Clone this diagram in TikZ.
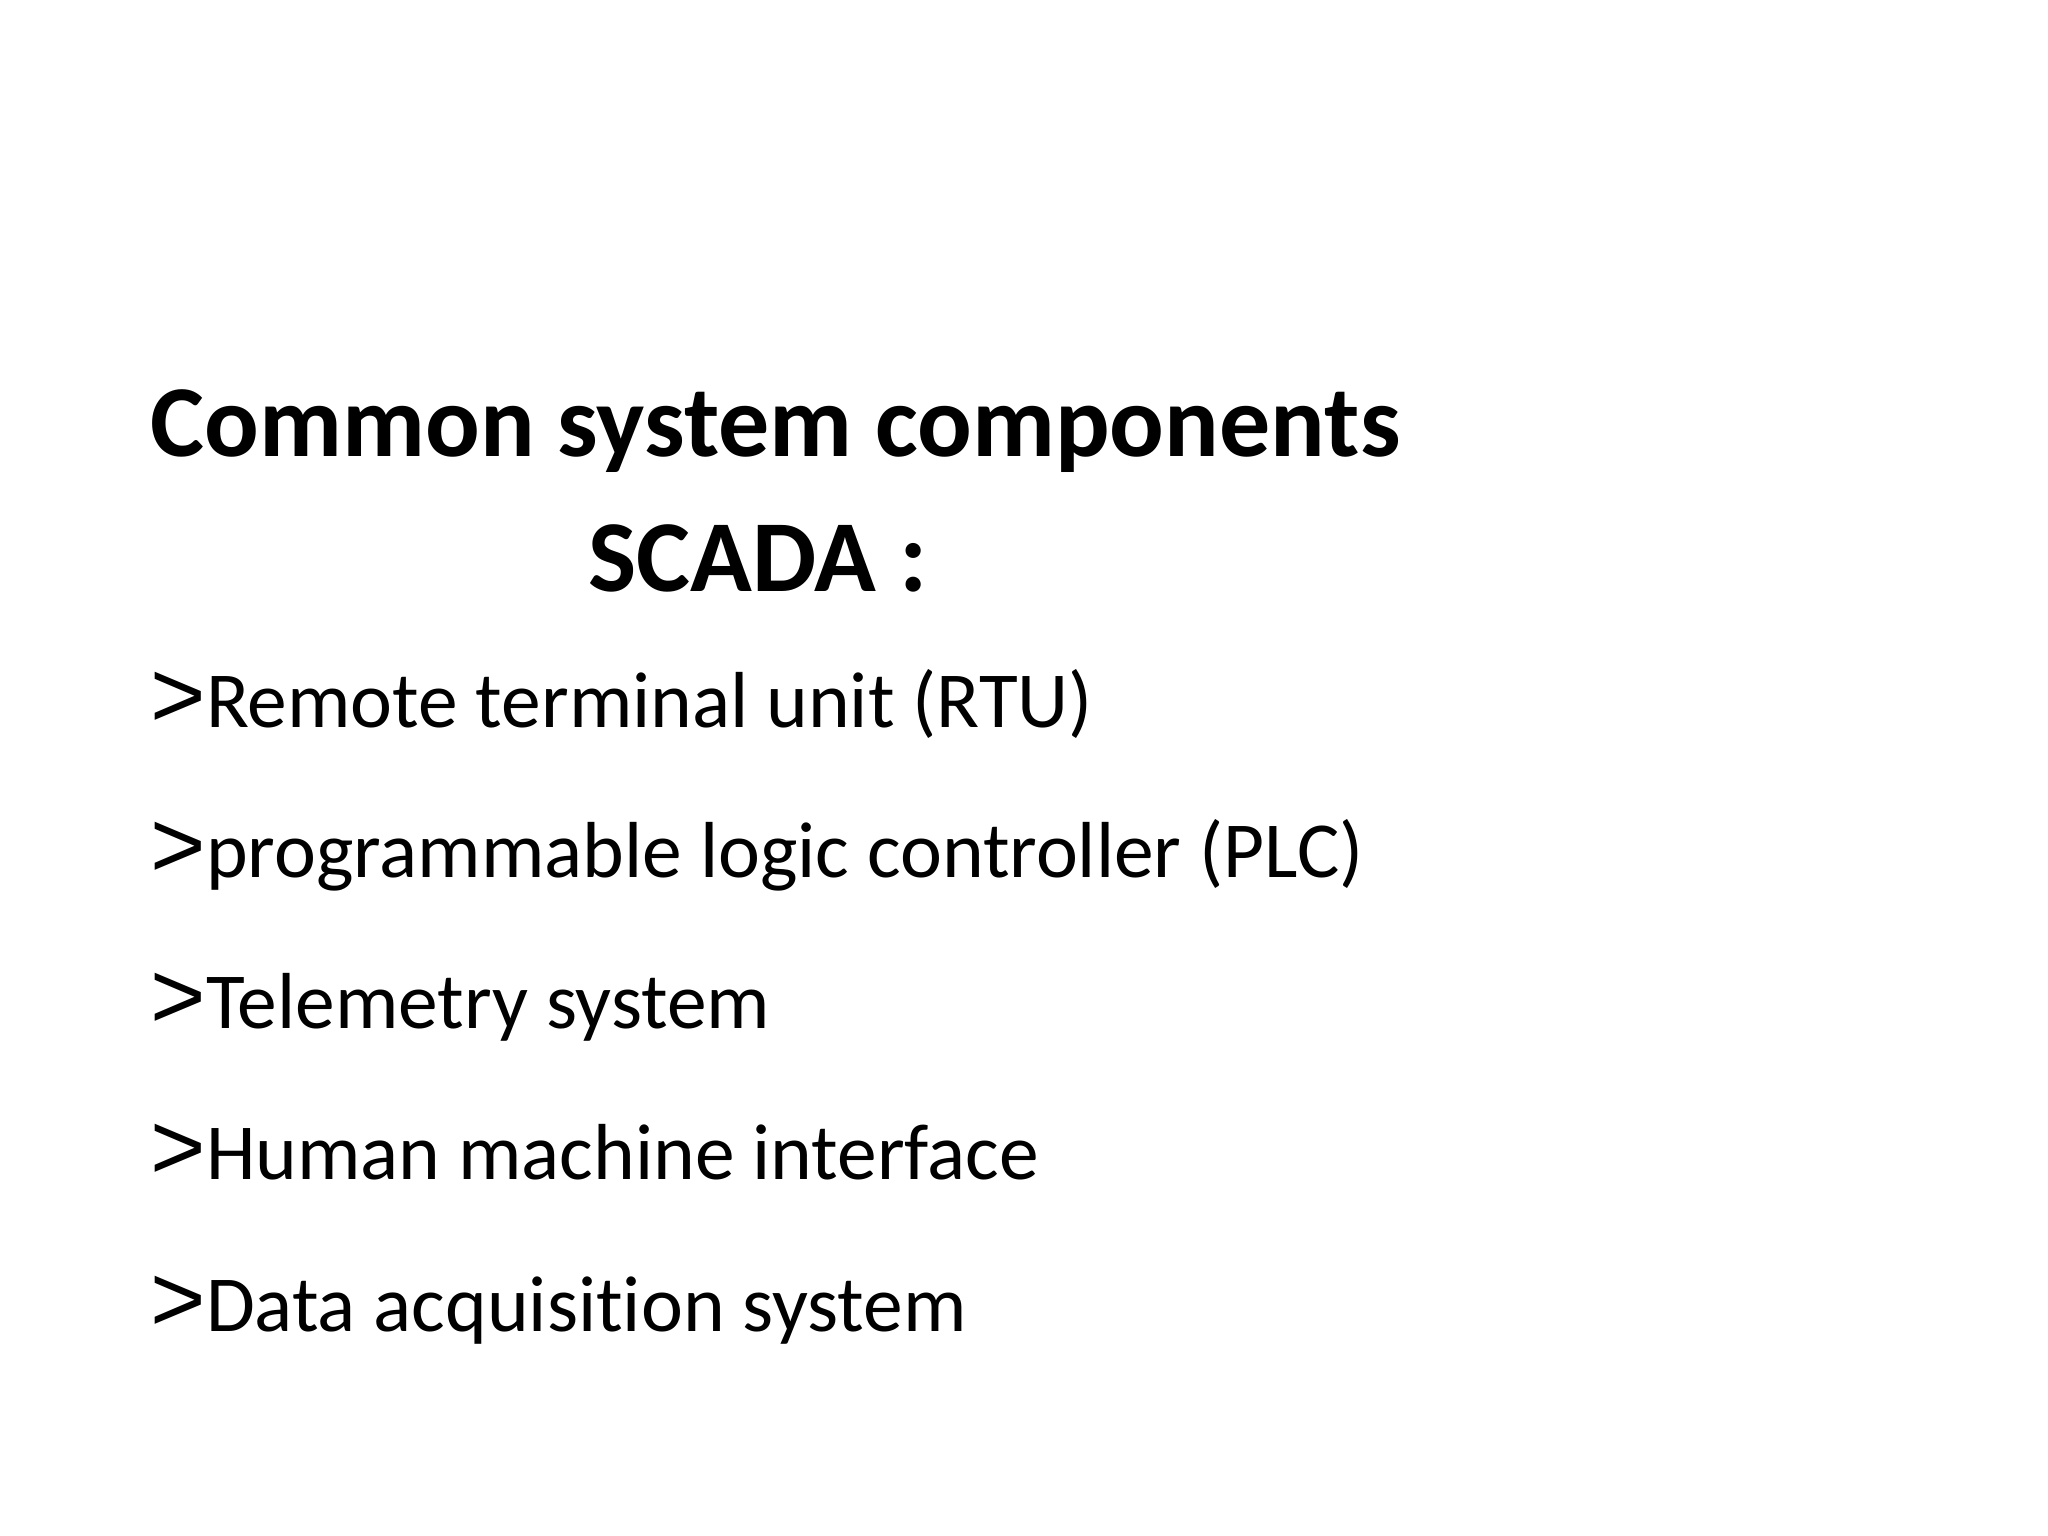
\documentclass[tikz,border=0pt]{standalone}
\usepackage{fontspec}
\setmainfont[Ligatures=NoCommon]{Carlito}
\newfontfamily\gtfont{Liberation Sans}
\begin{document}
\begin{tikzpicture}[x=1cm,y=1cm,
  ttl/.style={anchor=base west,inner sep=0pt,font=\fontsize{29}{34}\selectfont\bfseries},
  itm/.style={anchor=base west,inner sep=0pt,font=\fontsize{22.6}{28}\selectfont}]
\useasboundingbox (0,0) rectangle (20.48,15.36);
\node[ttl] (t1) at (1.50,15.36-4.57) {Common system components};
\node[ttl] (t2) at (5.88,15.36-5.92) {SCADA :};
\foreach \y/\t [count=\i] in {7.28/Remote terminal unit (RTU),8.78/programmable logic controller (PLC),10.29/Telemetry system,11.80/Human machine interface,13.32/Data acquisition system}{
  \node[itm] (i\i) at (1.50,15.36-\y) {{\gtfont\fontsize{27}{27}\selectfont >}\t};
}
\end{tikzpicture}
\end{document}
